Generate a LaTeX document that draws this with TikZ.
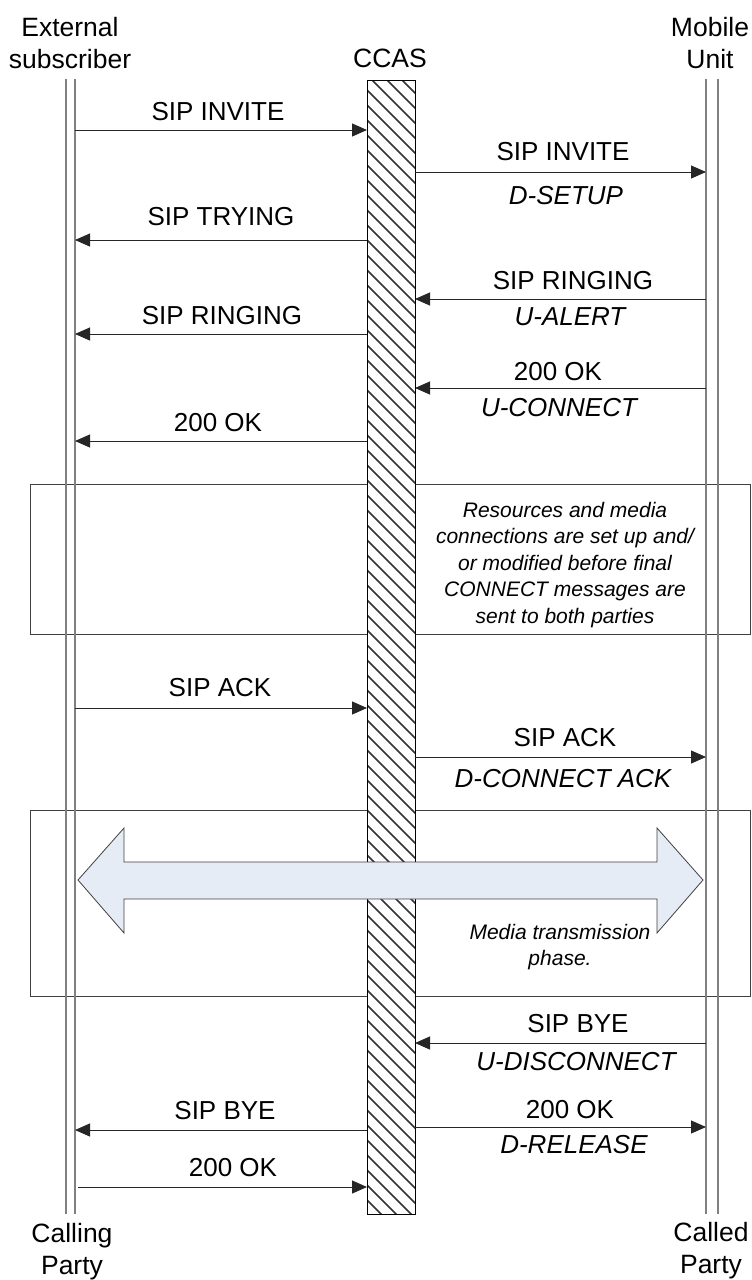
\documentclass[tikz,border=0pt]{standalone}
\usepackage{fontspec}
\setmainfont{Liberation Sans}
\usetikzlibrary{arrows.meta}
\definecolor{arrowfill}{RGB}{230,236,246}
\definecolor{lifegray}{RGB}{128,128,128}
\definecolor{framegray}{RGB}{64,64,64}
\begin{document}
\begin{tikzpicture}[x=1pt,y=-1pt,
  lbl/.style={font=\fontsize{26}{30}\selectfont, inner sep=0pt, anchor=center},
  sub/.style={font=\fontsize{26}{30}\selectfont\itshape, inner sep=0pt, anchor=center},
  head/.style={font=\fontsize{26.5}{32}\selectfont, inner sep=0pt, align=center, anchor=center},
  msgline/.style={draw=black!85, line width=1pt, -{Triangle[length=15pt,width=13pt]}},
  life/.style={draw=lifegray, line width=1.2pt},
  frame/.style={draw=framegray, line width=1pt},
  note/.style={font=\fontsize{21}{26.5}\selectfont\itshape, align=center, inner sep=0pt, anchor=center}
]
\useasboundingbox (0,0) rectangle (752,1280);

% headers
\node[head] (ext) at (70,43) {External\\subscriber};
\node[head] (ccas) at (390,58) {CCAS};
\node[head] (mob) at (710,43) {Mobile\\Unit};
\node[head] (calling) at (72,1252) {Calling\\Party};
\node[head] (called) at (711,1251) {Called\\Party};

% frames
\node[frame, minimum width=720pt, minimum height=150pt, inner sep=0pt] (box1) at (390.5,559) {};
\node[frame, minimum width=720pt, minimum height=186pt, inner sep=0pt] (box2) at (390.5,903) {};

% lifelines
\coordinate (LAt) at (66,79);  \coordinate (LAb) at (66,1214);
\coordinate (LBt) at (75,79);  \coordinate (LBb) at (75,1214);
\coordinate (RAt) at (706,79); \coordinate (RAb) at (706,1214);
\coordinate (RBt) at (718,79); \coordinate (RBb) at (718,1214);
\draw[life] (LAt) -- (LAb);
\draw[life] (LBt) -- (LBb);
\draw[life] (RAt) -- (RAb);
\draw[life] (RBt) -- (RBb);

% CCAS hatched bar
\node[draw=black, line width=1pt, fill=white, minimum width=48pt, minimum height=1134pt, inner sep=0pt] (bar) at (391,647) {};
\begin{scope}
  \clip (367,80) rectangle (415,1214);
  \foreach \k in {-60,-45,...,1215} {
    \draw[line width=1.6pt, black!80] (367,\k) -- (427,\k+60);
  }
\end{scope}
\draw[line width=1pt] (367,80) rectangle (415,1214);

% media double arrow
\draw[draw=framegray, line width=0.8pt, fill=arrowfill]
  (78,880) -- (124,828) -- (124,862) -- (657,862) -- (657,828) -- (703,880)
  -- (657,933) -- (657,899) -- (124,899) -- (124,933) -- cycle;

% notes
\node[note] (note1) at (565,565) {Resources and media\\connections are set up and/\\or modified before final\\CONNECT messages are\\sent to both parties};
\node[note] (note2) at (560,947) {Media transmission\\phase.};

% message endpoints
\coordinate (m1a) at (75,130);   \coordinate (m1b) at (367,130);
\coordinate (m2a) at (415,172);  \coordinate (m2b) at (706,172);
\coordinate (m3a) at (367,240);  \coordinate (m3b) at (75,240);
\coordinate (m4a) at (706,299);  \coordinate (m4b) at (415,299);
\coordinate (m5a) at (367,334);  \coordinate (m5b) at (75,334);
\coordinate (m6a) at (706,388);  \coordinate (m6b) at (415,388);
\coordinate (m7a) at (367,441);  \coordinate (m7b) at (75,441);
\coordinate (m8a) at (75,708);   \coordinate (m8b) at (367,708);
\coordinate (m9a) at (415,757);  \coordinate (m9b) at (706,757);
\coordinate (m10a) at (706,1043); \coordinate (m10b) at (415,1043);
\coordinate (m11a) at (367,1130); \coordinate (m11b) at (75,1130);
\coordinate (m12a) at (415,1127); \coordinate (m12b) at (706,1127);
\coordinate (m13a) at (78,1187);  \coordinate (m13b) at (367,1187);

\draw[msgline] (m1a) -- (m1b);
\draw[msgline] (m2a) -- (m2b);
\draw[msgline] (m3a) -- (m3b);
\draw[msgline] (m4a) -- (m4b);
\draw[msgline] (m5a) -- (m5b);
\draw[msgline] (m6a) -- (m6b);
\draw[msgline] (m7a) -- (m7b);
\draw[msgline] (m8a) -- (m8b);
\draw[msgline] (m9a) -- (m9b);
\draw[msgline] (m10a) -- (m10b);
\draw[msgline] (m11a) -- (m11b);
\draw[msgline] (m12a) -- (m12b);
\draw[msgline] (m13a) -- (m13b);

% labels
\node[lbl] (t1) at (218,112) {SIP INVITE};
\node[lbl] (t2) at (563,152) {SIP INVITE};
\node[sub] (s2) at (566,196) {D-SETUP};
\node[lbl] (t3) at (221,217) {SIP TRYING};
\node[lbl] (t4) at (573,281) {SIP RINGING};
\node[sub] (s4) at (570,317) {U-ALERT};
\node[lbl] (t5) at (222,316) {SIP RINGING};
\node[lbl] (t6) at (558,372) {200 OK};
\node[sub] (s6) at (559,408) {U-CONNECT};
\node[lbl] (t7) at (218,423) {200 OK};
\node[lbl] (t8) at (220,688) {SIP ACK};
\node[lbl] (t9) at (565,738) {SIP ACK};
\node[sub] (s9) at (563,779) {D-CONNECT ACK};
\node[lbl] (t10) at (578,1024) {SIP BYE};
\node[sub] (s10) at (576,1062) {U-DISCONNECT};
\node[lbl] (t11) at (225,1111) {SIP BYE};
\node[lbl] (t12) at (570,1110) {200 OK};
\node[sub] (s12) at (574,1145) {D-RELEASE};
\node[lbl] (t13) at (233,1168) {200 OK};
\end{tikzpicture}
\end{document}
